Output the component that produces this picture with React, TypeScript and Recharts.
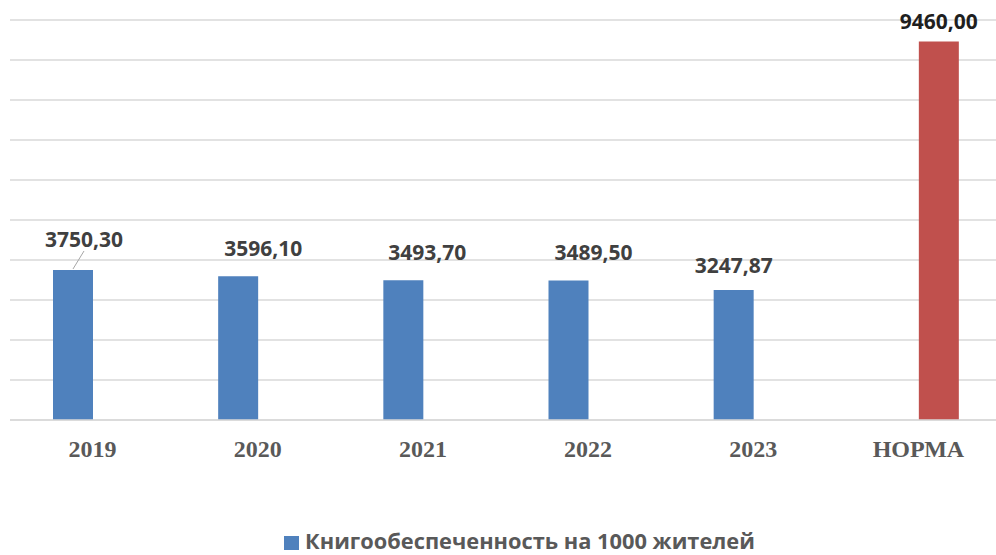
import React from "react";
import { BarChart, Bar, XAxis, YAxis, CartesianGrid, Legend, LabelList } from "recharts";

const categories = ["2019", "2020", "2021", "2022", "2023", "НОРМА"];
const bookSupply = [3750.3, 3596.1, 3493.7, 3489.5, 3247.87, null];
const normValues = [null, null, null, null, null, 9460.0];
const yTicks = [0, 1000, 2000, 3000, 4000, 5000, 6000, 7000, 8000, 9000, 10000];

// manual label placement (moved by hand in the original)
const labelDx = [11, 25, 24, 25, 0, 0];
const labelDy = [-31, -28.5, -28.5, -28.5, -25, -21];

const data = categories.map((name, i) => ({
  name,
  books: bookSupply[i],
  norm: normValues[i],
}));

const fmt = (v: number) => v.toFixed(2).replace(".", ",");

function makeLabel(series: (number | null)[], color: string) {
  return (props: any) => {
    const { x, y, width, value } = props;
    if (value == null) return null;
    const i = series.indexOf(value);
    const cx = x + width / 2;
    const lx = cx + labelDx[i];
    const ly = y + labelDy[i];
    return (
      <g>
        {i === 0 && (
          <line x1={cx} y1={y - 1} x2={lx} y2={ly + 12} stroke="#A6A6A6" strokeWidth={1} />
        )}
        <text x={lx} y={ly} textAnchor="middle" dominantBaseline="central"
          fontFamily="'Open Sans', sans-serif" fontWeight="bold" fontSize={21} fill={color}>
          {fmt(value)}
        </text>
      </g>
    );
  };
}

function LegendContent() {
  return (
    <div style={{ height: 40, display: "flex", alignItems: "flex-end", justifyContent: "center",
      paddingLeft: 28, paddingBottom: 2, boxSizing: "border-box", fontFamily: "'Open Sans', sans-serif",
      fontWeight: "bold", fontSize: 21.8, color: "#595959" }}>
      <span style={{ display: "inline-block", width: 15, height: 14, background: "#4F81BD", marginRight: 6, marginBottom: 3 }} />
      <span style={{ lineHeight: "24px" }}>Книгообеспеченность на 1000 жителей</span>
    </div>
  );
}

export default function App() {
  return (
    <div style={{ position: "absolute", left: 0, top: 0, width: 996, height: 555, overflow: "hidden", background: "#fff" }}>
      <BarChart width={1002} height={555} data={data} barGap={0} barSize={40}
        margin={{ top: 20, right: 1, bottom: 0, left: 10 }}>
        <CartesianGrid vertical={false} stroke="#D9D9D9" strokeWidth={1.5} />
        <YAxis hide domain={[0, 10000]} ticks={yTicks} width={0} />
        <XAxis dataKey="name" height={95} tickLine={false} axisLine={{ stroke: "#D9D9D9", strokeWidth: 1.5 }}
          tickSize={0} tickMargin={20}
          tick={{ fontFamily: "'Liberation Serif', serif", fontWeight: "bold", fontSize: 24, fill: "#595959" }} />
        <Legend verticalAlign="bottom" height={40} content={<LegendContent />} />
        <Bar dataKey="books" name="Книгообеспеченность на 1000 жителей" fill="#4F81BD" isAnimationActive={false}>
          <LabelList dataKey="books" content={makeLabel(bookSupply, "#404040")} />
        </Bar>
        <Bar dataKey="norm" fill="#C0504D" legendType="none" isAnimationActive={false}>
          <LabelList dataKey="norm" content={makeLabel(normValues, "#1F1F1F")} />
        </Bar>
      </BarChart>
    </div>
  );
}
